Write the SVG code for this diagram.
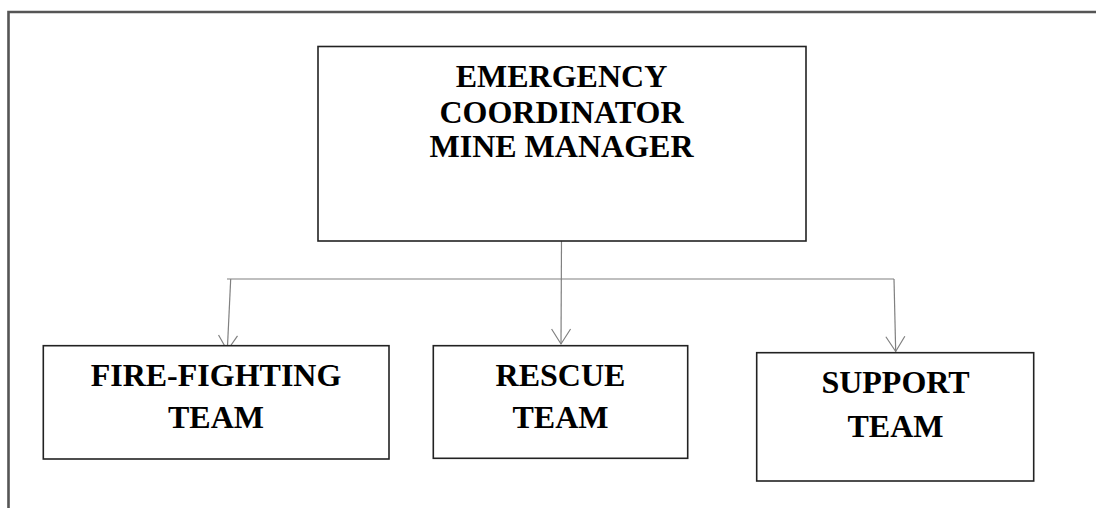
<svg xmlns="http://www.w3.org/2000/svg" width="1096" height="508" viewBox="0 0 1096 508">
<defs>
<marker id="arr" markerUnits="userSpaceOnUse" markerWidth="20" markerHeight="20" refX="0" refY="0" orient="auto" viewBox="-20 -10 20 20" overflow="visible">
<path d="M-15,-9.5 L0,0 L-15,9.5" fill="none" stroke="#808080" stroke-width="1.2"/>
</marker>
<style>
.box{fill:#fff;stroke:#222;stroke-width:1.6}
.t{font-family:"Liberation Serif","Times New Roman",serif;font-weight:bold;font-size:32px;fill:#000;text-anchor:middle}
.c{fill:none;stroke:#808080;stroke-width:1.2}
</style>
</defs>
<rect width="1096" height="508" fill="#fff"/>
<g id="frame" fill="none" stroke="#555" stroke-width="2.6">
<path d="M1096,12 H8.5 V508"/>
</g>
<g id="connectors">
<line class="c" x1="561.5" y1="241" x2="561" y2="344" marker-end="url(#arr)"/>
<line class="c" x1="227" y1="279" x2="894" y2="279"/>
<line class="c" x1="230.7" y1="279" x2="227.3" y2="350.5" marker-end="url(#arr)"/>
<line class="c" x1="894" y1="279" x2="895.7" y2="351.5" marker-end="url(#arr)"/>
</g>
<g id="coordinator">
<rect class="box" x="318" y="46.5" width="488" height="194.5"/>
<text class="t" x="561.5" y="86.7">EMERGENCY</text>
<text class="t" x="561.5" y="123">COORDINATOR</text>
<text class="t" x="561.5" y="157.3">MINE MANAGER</text>
</g>
<g id="fire-fighting">
<rect class="box" x="43.3" y="345.7" width="345.7" height="113.3"/>
<text class="t" x="216" y="385.7">FIRE-FIGHTING</text>
<text class="t" x="216" y="428.3">TEAM</text>
</g>
<g id="rescue">
<rect class="box" x="433.3" y="345.7" width="254.4" height="112.6"/>
<text class="t" x="560.5" y="385.7">RESCUE</text>
<text class="t" x="560.5" y="428.3">TEAM</text>
</g>
<g id="support">
<rect class="box" x="756.7" y="352.7" width="277" height="128.3"/>
<text class="t" x="895.5" y="393.3">SUPPORT</text>
<text class="t" x="895.5" y="436.7">TEAM</text>
</g>
</svg>
